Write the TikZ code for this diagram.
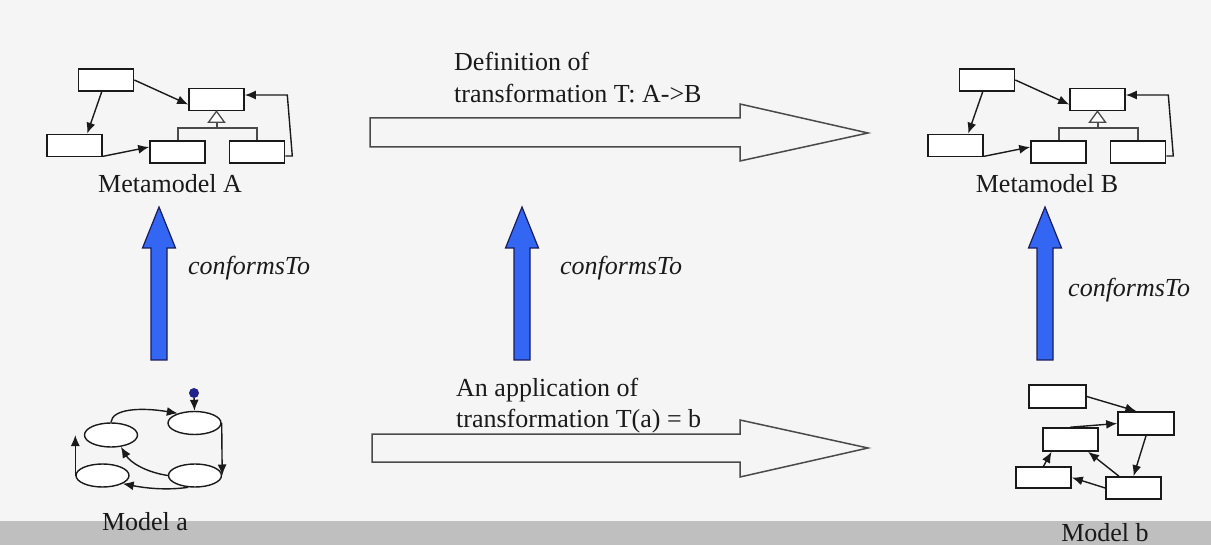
\documentclass[tikz,border=0pt]{standalone}
\usepackage{fontspec}
\setmainfont{Liberation Serif}
\newfontfamily\tnr{Liberation Serif}
\usetikzlibrary{shapes.geometric,arrows.meta}
\definecolor{bg}{HTML}{F5F5F5}
\definecolor{band}{HTML}{BFBFBF}
\definecolor{bluearrow}{HTML}{3366F2}
\definecolor{navy}{HTML}{1B1B5E}
\definecolor{dotblue}{HTML}{22228A}
\definecolor{ink}{HTML}{1A1A1A}
\definecolor{outl}{HTML}{4A4A4A}

\newcommand{\mmodel}[2]{%
\begin{scope}[xshift=#1]
  \node[cls] (#2b1)  at (106,80) {};
  \node[cls] (#2sup) at (216.5,99.5) {};
  \node[cls] (#2ll)  at (74.5,145.5) {};
  \node[cls] (#2ml)  at (177.5,152) {};
  \node[cls] (#2rl)  at (257,152) {};
  \draw[inh] (217,122) -- (217,128);
  \draw[inh] (#2ml.north -| 178,0) -- (178,128) -- (257,128) -- (#2rl.north);
  \draw[inh, fill=white] (#2sup.south) -- ++(8,11) -- ++(-16,0) -- cycle;
  \draw[conn] (#2b1.east) -- (#2sup.190);
  \draw[conn] (#2b1.-110) -- (#2ll.43);
  \draw[conn] (#2ll.-21) -- (#2ml.170);
  \draw[conn] (#2rl.-8) -- ++(7,0) -- ++(-5,-61) -- (#2sup.9);
\end{scope}}

\begin{document}
\begin{tikzpicture}[x=1pt,y=-1pt,
  cls/.style={draw=ink, line width=1.6pt, fill=white, minimum width=55pt, minimum height=22pt, inner sep=0pt},
  ell/.style={ellipse, draw=ink, line width=1.4pt, fill=white, minimum width=53pt, minimum height=23pt, inner sep=0pt},
  conn/.style={draw=ink, line width=1.4pt, -{Latex[length=11pt,width=9pt]}},
  inh/.style={draw=outl, line width=1.3pt},
  lbl/.style={font=\tnr\fontsize{26}{31}\selectfont, text=ink, inner sep=0pt},
  ilbl/.style={font=\tnr\itshape\fontsize{26}{31}\selectfont, text=ink, inner sep=0pt},
  hollow/.style={draw=outl, line width=1.5pt, fill=bg, line join=miter},
  bluear/.style={draw=navy, fill=bluearrow, line width=1.2pt, line join=miter},
  uparrow/.pic={\path[bluear] (-8,153) -- (-8,41) -- (-16.5,41) -- (0,0) -- (16.5,41) -- (8,41) -- (8,153) -- cycle;}
]
% background
\fill[bg] (0,0) rectangle (1211,545);
\fill[band] (0,521) rectangle (1211,545);
\useasboundingbox (0,0) rectangle (1211,545);

% metamodels
\mmodel{0pt}{A}
\mmodel{881pt}{B}
\node[lbl, anchor=base] (lblA) at (170,193) {Metamodel A};
\node[lbl, anchor=base] (lblB) at (1047,193) {Metamodel B};

% hollow transformation arrows
\draw[hollow] (370,118) -- (740,118) -- (740,104) -- (868,133) -- (740,161) -- (740,147) -- (370,147) -- cycle;
\draw[hollow] (372,434) -- (740,434) -- (740,420) -- (868,448) -- (740,477) -- (740,462) -- (372,462) -- cycle;
\node[lbl, anchor=base west] (def1) at (454,71) {Definition of};
\node[lbl, anchor=base west] (def2) at (454,103) {transformation T: A->B};
\node[lbl, anchor=base west] (app1) at (456,397) {An application of};
\node[lbl, anchor=base west] (app2) at (456,428) {transformation T(a) = b};

% blue conformsTo arrows
\pic at (159,207) {uparrow};
\pic at (522,207) {uparrow};
\pic at (1045,207) {uparrow};
\node[ilbl, anchor=base west] (cfA) at (188,275) {conformsTo};
\node[ilbl, anchor=base west] (cfT) at (560,275) {conformsTo};
\node[ilbl, anchor=base west] (cfB) at (1068,297) {conformsTo};

% Model a
\node[ell] (e1) at (194.5,423) {};
\node[ell, minimum height=24pt] (e2) at (111,435) {};
\node[ell] (e3) at (102.5,475.5) {};
\node[ell] (e4) at (195,475.5) {};
\node[circle, fill=dotblue, inner sep=0pt, minimum size=10pt] (dot) at (194,393) {};
\draw[conn] (dot) -- (e1.north);
\draw[conn] (e2.north) .. controls (112,409) and (140,407) .. (e1.150);
\draw[conn] (e1.east) -- (e4.east);
\draw[conn] (e4.west) .. controls (145,472) and (130,462) .. (e2.-50);
\draw[conn] (e4.-120) .. controls (170,490) and (150,489) .. (e3.-22);
\draw[conn] (e3.west) -- (e3.west |- e2.west);
\node[lbl, anchor=base] (lblMa) at (145,530) {Model a};

% Model b
\node[cls, minimum width=57pt, minimum height=23pt] (m1) at (1057.5,396.5) {};
\node[cls, minimum width=56pt, minimum height=23pt] (m2) at (1146,423.5) {};
\node[cls, minimum width=55pt, minimum height=23pt] (m3) at (1070.5,439.5) {};
\node[cls, minimum width=55pt, minimum height=21pt] (m4) at (1043.5,477.5) {};
\node[cls, minimum width=55pt, minimum height=22pt] (m5) at (1133.5,488) {};
\draw[conn] (m1.east) -- (m2.128);
\draw[conn] (m3.north) -- (m2.west);
\draw[conn] (m2.south) -- (m5.north);
\draw[conn] (m5.141) -- (m3.-35);
\draw[conn] (m5.west) -- (m4.east);
\draw[conn] (m4.north) -- (m3.-147);
\node[lbl, anchor=base] (lblMb) at (1105,541) {Model b};
\end{tikzpicture}
\end{document}
